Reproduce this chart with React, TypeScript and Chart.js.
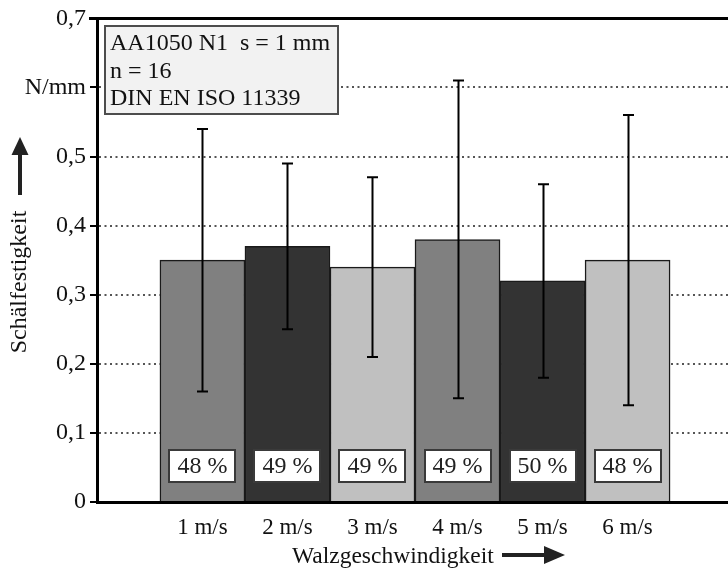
import React, { useEffect, useRef } from "react";
import { Chart, registerables } from "chart.js";

Chart.register(...registerables);

const categories = ["1 m/s", "2 m/s", "3 m/s", "4 m/s", "5 m/s", "6 m/s"];
const xPositions = [1, 2, 3, 4, 5, 6];
const strength = [0.35, 0.37, 0.34, 0.38, 0.32, 0.35];
const errLow = [0.16, 0.25, 0.21, 0.15, 0.18, 0.14];
const errHigh = [0.54, 0.49, 0.47, 0.61, 0.46, 0.56];
const failShare = [48, 49, 49, 49, 50, 48];
const yTickValues = [0, 0.1, 0.2, 0.3, 0.4, 0.5, 0.6, 0.7];
const yTickLabels = ["0", "0,1", "0,2", "0,3", "0,4", "0,5", "N/mm", "0,7"];
const barColors = ["#808080", "#333333", "#c0c0c0", "#808080", "#333333", "#c0c0c0"];
const infoLines = ["AA1050 N1  s = 1 mm", "n = 16", "DIN EN ISO 11339"];
const yTitle = "Schälfestigkeit";
const xTitle = "Walzgeschwindigkeit";

const FONT = '"Liberation Serif", "Times New Roman", serif';

const overlayPlugin = {
  id: "overlay",
  afterDatasetsDraw(chart: any) {
    const ctx = chart.ctx;
    const xs = chart.scales.x;
    const ys = chart.scales.y;
    ctx.save();
    // error bars
    ctx.strokeStyle = "#000";
    ctx.lineWidth = 2;
    xPositions.forEach((xv, i) => {
      const px = Math.round(xs.getPixelForValue(xv)) + 0.5;
      const yl = ys.getPixelForValue(errLow[i]);
      const yh = ys.getPixelForValue(errHigh[i]);
      ctx.beginPath();
      ctx.moveTo(px, yl);
      ctx.lineTo(px, yh);
      ctx.moveTo(px - 5.5, yh);
      ctx.lineTo(px + 5.5, yh);
      ctx.moveTo(px - 5.5, yl);
      ctx.lineTo(px + 5.5, yl);
      ctx.stroke();
    });
    // percentage boxes
    const y0 = ys.getPixelForValue(0);
    xPositions.forEach((xv, i) => {
      const px = xs.getPixelForValue(xv);
      const w = 68, h = 34;
      const left = Math.round(px - w / 2);
      const top = Math.round(y0 - 19 - h);
      ctx.fillStyle = "#fff";
      ctx.fillRect(left, top, w, h);
      ctx.strokeStyle = "#3a3a3a";
      ctx.lineWidth = 2;
      ctx.strokeRect(left + 1, top + 1, w - 2, h - 2);
      ctx.fillStyle = "#222";
      ctx.font = `24px ${FONT}`;
      ctx.textAlign = "center";
      ctx.textBaseline = "middle";
      ctx.fillText(`${failShare[i]} %`, px, top + h / 2 + 1);
    });
    ctx.restore();
  },
  afterDraw(chart: any) {
    const ctx = chart.ctx;
    const area = chart.chartArea;
    ctx.save();
    // top frame line
    ctx.strokeStyle = "#000";
    ctx.lineWidth = 3;
    ctx.beginPath();
    ctx.moveTo(89, area.top);
    ctx.lineTo(chart.width, area.top);
    ctx.stroke();

    // info box
    ctx.fillStyle = "#f2f2f2";
    ctx.fillRect(104, 25, 235, 90);
    ctx.strokeStyle = "#4d4d4d";
    ctx.lineWidth = 2;
    ctx.strokeRect(105, 26, 233, 88);
    ctx.fillStyle = "#111";
    ctx.font = `24px ${FONT}`;
    ctx.textAlign = "left";
    ctx.textBaseline = "alphabetic";
    infoLines.forEach((t, i) => ctx.fillText(t, 110, 50 + i * 27.5));

    // y title + arrow
    ctx.save();
    ctx.translate(20, 282);
    ctx.rotate(-Math.PI / 2);
    ctx.textAlign = "center";
    ctx.textBaseline = "middle";
    ctx.fillStyle = "#111";
    ctx.fillText(yTitle, 0, 0);
    ctx.restore();
    ctx.fillStyle = "#222";
    ctx.fillRect(18, 152, 4, 43);
    ctx.beginPath();
    ctx.moveTo(20, 137);
    ctx.lineTo(28.5, 155);
    ctx.lineTo(11.5, 155);
    ctx.closePath();
    ctx.fill();

    // x title + arrow
    ctx.fillStyle = "#111";
    ctx.textAlign = "left";
    ctx.textBaseline = "alphabetic";
    ctx.font = `23.5px ${FONT}`;
    ctx.fillText(xTitle, 292, 563);
    ctx.fillStyle = "#222";
    ctx.fillRect(502, 553, 44, 4);
    ctx.beginPath();
    ctx.moveTo(565, 555);
    ctx.lineTo(544, 546);
    ctx.lineTo(544, 564);
    ctx.closePath();
    ctx.fill();
    ctx.restore();
  },
};

export default function App() {
  const ref = useRef<HTMLCanvasElement | null>(null);
  useEffect(() => {
    if (!ref.current) return;
    const chart = new Chart(ref.current, {
      type: "bar",
      data: {
        datasets: [
          {
            data: xPositions.map((x, i) => ({ x, y: strength[i] })),
            backgroundColor: barColors,
            borderColor: "#1a1a1a",
            borderWidth: 1.5,
            barPercentage: 1,
            categoryPercentage: 1,
          },
        ],
      },
      options: {
        animation: false,
        responsive: false,
        devicePixelRatio: 1,
        layout: { padding: { top: 17, right: 7, left: 0, bottom: 0 } },
        plugins: { legend: { display: false }, tooltip: { enabled: false } },
        scales: {
          x: {
            type: "linear",
            offset: false,
            bounds: "data",
            min: -0.24,
            max: 7.24,
            afterBuildTicks: (axis: any) => {
              axis.ticks = xPositions.map((v) => ({ value: v }));
            },
            afterFit: (axis: any) => {
              axis.height = 68;
            },
            ticks: {
              autoSkip: false,
              maxRotation: 0,
              padding: 12,
              color: "#111",
              font: { family: FONT, size: 23 },
              callback: (v: any) => {
                const i = xPositions.indexOf(Number(v));
                return i >= 0 ? categories[i] : "";
              },
            },
            grid: { display: false, drawTicks: false, offset: false },
            border: { display: true, color: "#000", width: 3 },
          },
          y: {
            min: 0,
            max: 0.7,
            afterBuildTicks: (axis: any) => {
              axis.ticks = yTickValues.map((v) => ({ value: v }));
            },
            afterFit: (axis: any) => {
              axis.width = 97;
            },
            ticks: {
              padding: 4,
              color: "#111",
              font: { family: FONT, size: 24 },
              callback: (v: any) => {
                const i = yTickValues.findIndex((t) => Math.abs(t - Number(v)) < 1e-6);
                return i >= 0 ? yTickLabels[i] : "";
              },
            },
            grid: {
              color: (c: any) => {
                const v = c.tick ? c.tick.value : 0;
                return v < 0.05 || v > 0.65 ? "rgba(0,0,0,0)" : "#555";
              },
              lineWidth: 2,
              tickColor: "#000",
              tickLength: 7,
              tickWidth: 2,
            },
            border: { display: true, color: "#000", width: 3, dash: [2, 3.5] },
          },
        },
      },
      plugins: [overlayPlugin],
    } as any);
    return () => chart.destroy();
  }, []);
  return (
    <div
      style={{
        position: "fixed",
        left: 0,
        top: 0,
        width: 728,
        height: 570,
        overflow: "hidden",
        background: "#fff",
      }}
    >
      <canvas ref={ref} width={740} height={570} style={{ display: "block" }} />
    </div>
  );
}
